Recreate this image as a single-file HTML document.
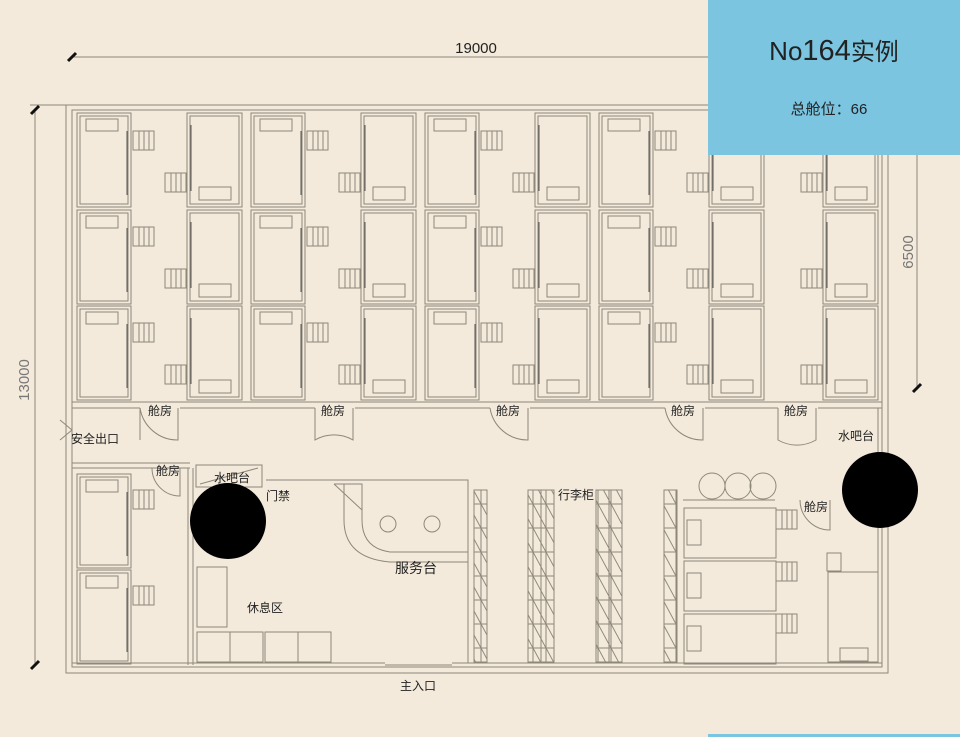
<!DOCTYPE html>
<html><head><meta charset="utf-8"><style>
body{margin:0;background:#f3eadb;}
svg{display:block}
text{font-family:"Liberation Sans","Noto Sans CJK SC",sans-serif;fill:#222}
</style></head><body>
<svg width="960" height="737" viewBox="0 0 960 737" xmlns="http://www.w3.org/2000/svg">
<defs>
<g id="podA" fill="none" stroke="#8e887b" stroke-width="1">
  <rect x="0" y="0" width="54" height="94"/>
  <rect x="3" y="3" width="48" height="88"/>
  <rect x="9" y="6" width="32" height="12"/>
  <line x1="50" y1="18" x2="50" y2="82" stroke="#555"/>
</g>
<g id="podB" fill="none" stroke="#8e887b" stroke-width="1">
  <rect x="0" y="0" width="55" height="94"/>
  <rect x="3" y="3" width="49" height="88"/>
  <rect x="12" y="74" width="32" height="13"/>
  <line x1="4" y1="12" x2="4" y2="78" stroke="#555"/>
</g>
<g id="lad" fill="none" stroke="#8e887b" stroke-width="1">
  <rect x="0" y="0" width="21" height="19"/>
  <line x1="6" y1="0" x2="6" y2="19"/><line x1="11" y1="0" x2="11" y2="19"/><line x1="16" y1="0" x2="16" y2="19"/>
</g>
<pattern id="hat" width="13" height="24" patternUnits="userSpaceOnUse">
  <rect width="13" height="24" fill="none" stroke="#8e887b" stroke-width="1"/>
  <line x1="0" y1="0" x2="13" y2="24" stroke="#8e887b"/>
</pattern>
</defs>

<!-- dimension lines -->
<g stroke="#8e887b" fill="none">
<line x1="72" y1="57" x2="712" y2="57"/>
<line x1="35" y1="110" x2="35" y2="665"/>
<line x1="917" y1="150" x2="917" y2="390"/>
<line x1="30" y1="105" x2="890" y2="105"/>
</g>
<g stroke="#111" stroke-width="3">
<line x1="68" y1="61" x2="76" y2="53"/>
<line x1="31" y1="114" x2="39" y2="106"/>
<line x1="31" y1="669" x2="39" y2="661"/>
<line x1="913" y1="392" x2="921" y2="384"/>
</g>
<text x="476" y="53" font-size="15" text-anchor="middle" fill="#777">19000</text>
<text transform="translate(29,380) rotate(-90)" font-size="15" text-anchor="middle" style="fill:#777">13000</text>
<text transform="translate(913,252) rotate(-90)" font-size="15" text-anchor="middle" style="fill:#777">6500</text>

<!-- outer walls -->
<g fill="none" stroke="#8e887b" stroke-width="1">
<rect x="66" y="105" width="822" height="568"/>
<rect x="72" y="110" width="810" height="557"/>
<line x1="72" y1="402" x2="882" y2="402"/>
<line x1="72" y1="408" x2="140" y2="408"/>
<line x1="180" y1="408" x2="315" y2="408"/><line x1="355" y1="408" x2="490" y2="408"/>
<line x1="530" y1="408" x2="665" y2="408"/><line x1="705" y1="408" x2="778" y2="408"/>
<line x1="818" y1="408" x2="882" y2="408"/>
<line x1="72" y1="463" x2="190" y2="463"/><line x1="72" y1="468" x2="190" y2="468"/>
<line x1="188" y1="468" x2="188" y2="665"/><line x1="193" y1="468" x2="193" y2="665"/>
<line x1="72" y1="663" x2="385" y2="663"/>
<line x1="452" y1="663" x2="882" y2="663"/>
<line x1="385" y1="665" x2="452" y2="665"/>
</g>
<!-- doors -->
<g fill="none" stroke="#8e887b">
<path d="M140 408 v32 M140 408 A38 38 0 0 0 178 440 v-32"/>
<path d="M315 408 v32 A38 38 0 0 1 353 440 v-32" />
<path d="M490 408 A38 38 0 0 0 528 440 v-32"/>
<path d="M665 408 A38 38 0 0 0 703 440 v-32"/>
<path d="M778 408 v32 A38 38 0 0 0 816 440 v-32"/>
<path d="M152 468 A28 28 0 0 0 180 496 v-28"/>
<path d="M800 500 A30 30 0 0 0 830 530 v-30"/>
<path d="M60 420 L72 430 M60 440 L72 430" />
</g>

<!-- upper pods -->
<g>
<use href="#podA" x="77" y="113"/><use href="#podA" x="77" y="210"/><use href="#podA" x="77" y="306"/>
<use href="#podB" x="187" y="113"/><use href="#podB" x="187" y="210"/><use href="#podB" x="187" y="306"/>
<use href="#podA" x="251" y="113"/><use href="#podA" x="251" y="210"/><use href="#podA" x="251" y="306"/>
<use href="#podB" x="361" y="113"/><use href="#podB" x="361" y="210"/><use href="#podB" x="361" y="306"/>
<use href="#podA" x="425" y="113"/><use href="#podA" x="425" y="210"/><use href="#podA" x="425" y="306"/>
<use href="#podB" x="535" y="113"/><use href="#podB" x="535" y="210"/><use href="#podB" x="535" y="306"/>
<use href="#podA" x="599" y="113"/><use href="#podA" x="599" y="210"/><use href="#podA" x="599" y="306"/>
<use href="#podB" x="709" y="113"/><use href="#podB" x="709" y="210"/><use href="#podB" x="709" y="306"/>
<use href="#podB" x="823" y="113"/><use href="#podB" x="823" y="210"/><use href="#podB" x="823" y="306"/>
</g>
<g>
<use href="#lad" x="133" y="131"/><use href="#lad" x="165" y="173"/><use href="#lad" x="133" y="227"/><use href="#lad" x="165" y="269"/><use href="#lad" x="133" y="323"/><use href="#lad" x="165" y="365"/>
<use href="#lad" x="307" y="131"/><use href="#lad" x="339" y="173"/><use href="#lad" x="307" y="227"/><use href="#lad" x="339" y="269"/><use href="#lad" x="307" y="323"/><use href="#lad" x="339" y="365"/>
<use href="#lad" x="481" y="131"/><use href="#lad" x="513" y="173"/><use href="#lad" x="481" y="227"/><use href="#lad" x="513" y="269"/><use href="#lad" x="481" y="323"/><use href="#lad" x="513" y="365"/>
<use href="#lad" x="655" y="131"/><use href="#lad" x="687" y="173"/><use href="#lad" x="655" y="227"/><use href="#lad" x="687" y="269"/><use href="#lad" x="655" y="323"/><use href="#lad" x="687" y="365"/>
<use href="#lad" x="801" y="173"/><use href="#lad" x="801" y="269"/><use href="#lad" x="801" y="365"/>
</g>

<!-- lower left pods -->
<use href="#podA" x="77" y="474"/><use href="#podA" x="77" y="570"/>
<use href="#lad" x="133" y="490"/><use href="#lad" x="133" y="586"/>

<!-- water bar / lounge -->
<g fill="none" stroke="#8e887b">
<rect x="196" y="465" width="66" height="22"/>
<line x1="200" y1="484" x2="258" y2="468"/>
<line x1="266" y1="480" x2="330" y2="480"/>
<rect x="197" y="567" width="30" height="60"/>
<rect x="197" y="632" width="66" height="30"/><rect x="265" y="632" width="66" height="30"/>
<line x1="230" y1="632" x2="230" y2="662"/><line x1="298" y1="632" x2="298" y2="662"/>
<!-- service desk -->
<path d="M330 480 H468 V663"/>
<path d="M334 484 H362 V520 Q362 548 390 552 H468"/>
<path d="M344 484 V520 Q344 558 390 562 H468"/>
<path d="M334 484 L362 510"/>
<circle cx="388" cy="524" r="8"/><circle cx="432" cy="524" r="8"/>
</g>
<g fill="url(#hat)" stroke="#8e887b">
<rect x="474" y="490" width="13" height="172"/>
<rect x="528" y="490" width="13" height="172"/><rect x="541" y="490" width="13" height="172"/>
<rect x="596" y="490" width="13" height="172"/><rect x="609" y="490" width="13" height="172"/>
<rect x="664" y="490" width="13" height="172"/>
</g>
<!-- lower right -->
<g fill="none" stroke="#8e887b">
<circle cx="712" cy="486" r="13"/><circle cx="738" cy="486" r="13"/><circle cx="763" cy="486" r="13"/>
<line x1="683" y1="500" x2="775" y2="500"/>
<rect x="684" y="508" width="92" height="50"/><rect x="684" y="561" width="92" height="50"/><rect x="684" y="614" width="92" height="50"/>
<rect x="687" y="520" width="14" height="25"/><rect x="687" y="573" width="14" height="25"/><rect x="687" y="626" width="14" height="25"/>
<rect x="828" y="572" width="50" height="90"/><rect x="840" y="648" width="28" height="13"/>
<rect x="827" y="553" width="14" height="18"/>
<line x1="878" y1="408" x2="878" y2="663"/>
</g>
<use href="#lad" x="776" y="510"/><use href="#lad" x="776" y="562"/><use href="#lad" x="776" y="614"/>

<circle cx="228" cy="521" r="38" fill="#000"/>
<circle cx="880" cy="490" r="38" fill="#000"/>

<!-- labels -->
<g font-size="12">
<text x="160" y="415" text-anchor="middle">舱房</text>
<text x="333" y="415" text-anchor="middle">舱房</text>
<text x="508" y="415" text-anchor="middle">舱房</text>
<text x="683" y="415" text-anchor="middle">舱房</text>
<text x="796" y="415" text-anchor="middle">舱房</text>
<text x="95" y="443" text-anchor="middle">安全出口</text>
<text x="168" y="475" text-anchor="middle">舱房</text>
<text x="232" y="482" text-anchor="middle">水吧台</text>
<text x="278" y="500" text-anchor="middle">门禁</text>
<text x="265" y="612" text-anchor="middle">休息区</text>
<text x="576" y="499" text-anchor="middle">行李柜</text>
<text x="816" y="511" text-anchor="middle">舱房</text>
<text x="856" y="440" text-anchor="middle">水吧台</text>
<text x="418" y="690" text-anchor="middle">主入口</text>
<text x="416" y="573" text-anchor="middle" font-size="14">服务台</text>
</g>

<!-- blue box -->
<rect x="708" y="0" width="252" height="155" fill="#7bc5e1"/>
<text x="834" y="60" font-size="29" text-anchor="middle" fill="#111"><tspan font-size="26">No</tspan>164<tspan font-size="24">实例</tspan></text>
<text x="829" y="114" font-size="15" text-anchor="middle" fill="#111">总舱位：66</text>
<rect x="708" y="734" width="252" height="3" fill="#7bc5e1"/>
</svg>
</body></html>
